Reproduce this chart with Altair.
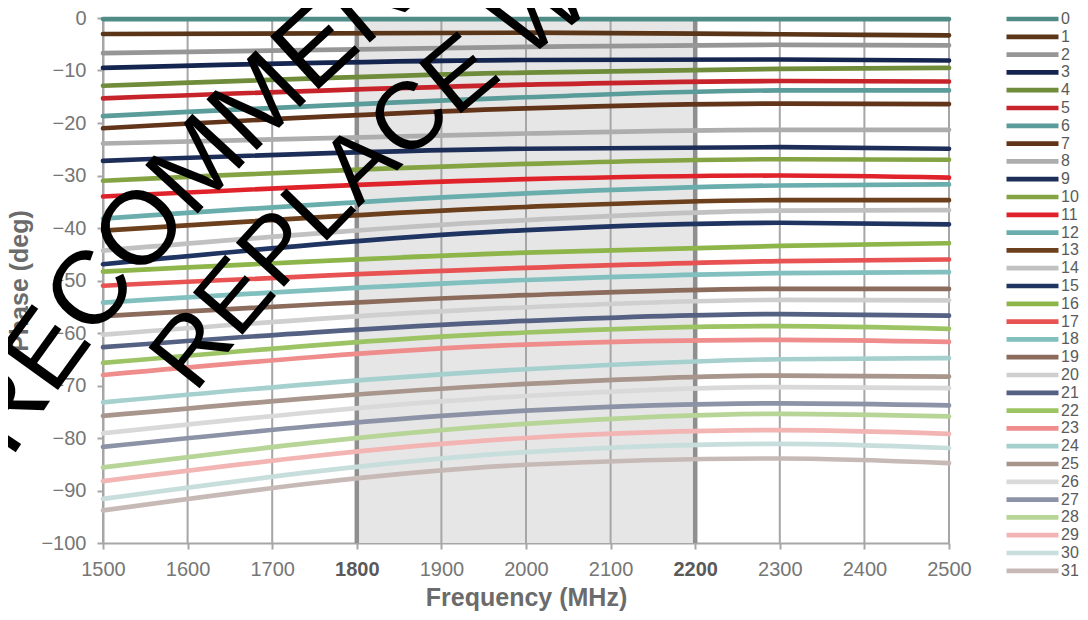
import math
import altair as alt
import pandas as pd

# ---- data ----
series = [str(i) for i in range(32)]
colors = [
    "#4f8b87", "#5a3518", "#969696", "#14254f", "#6e8c3a", "#c6232a", "#5a9c99", "#623419",
    "#adadad", "#1c2d58", "#84a444", "#e0232b", "#69adac", "#6c3f1d", "#c1c1c1", "#1f3461",
    "#8db54a", "#e85253", "#82bfbf", "#8a6b5c", "#cfcfcf", "#556183", "#9cc464", "#ee8d8c",
    "#a5d0ce", "#a8958c", "#d9d9d9", "#8d93a6", "#b8d598", "#f2b5b3", "#c7dedd", "#c7bab6",
]
freqs = [1500, 2000, 2300, 2500]
p1500 = [-0.2, -3.05, -6.7, -9.5, -12.9, -15.3, -18.7, -21.0, -23.9, -27.2, -31.0, -34.0,
         -38.2, -40.5, -44.3, -46.9, -48.3, -51.0, -54.2, -56.8, -60.3, -62.7, -65.7, -68.0,
         -73.2, -75.8, -79.1, -81.7, -85.6, -88.2, -91.6, -93.8]
p2000 = [-0.2, -2.8, -5.5, -8.0, -10.4, -12.7, -15.1, -17.2, -22.0, -24.9, -27.8, -30.7,
         -33.4, -36.0, -38.5, -40.4, -44.7, -47.6, -49.9, -52.8, -55.1, -57.7, -59.9, -62.2,
         -66.9, -69.7, -72.0, -74.8, -77.3, -80.0, -82.7, -85.1]
p2300 = [-0.2, -3.1, -5.1, -7.9, -9.7, -12.0, -13.8, -16.3, -21.3, -24.6, -26.9, -30.0,
         -31.9, -34.7, -36.7, -39.0, -43.4, -46.3, -48.6, -51.6, -53.7, -56.4, -58.7, -61.3,
         -65.0, -68.1, -70.3, -73.4, -75.4, -78.5, -81.1, -83.9]
p2500 = [-0.2, -3.3, -5.2, -8.1, -9.5, -12.1, -13.8, -16.4, -21.3, -24.9, -27.0, -30.4,
         -31.7, -34.7, -36.6, -39.3, -42.9, -46.0, -48.4, -51.6, -53.8, -56.7, -59.2, -61.7,
         -64.8, -68.3, -70.5, -73.8, -75.9, -79.2, -81.9, -84.8]

x_ticks = list(range(1500, 2501, 100))
y_ticks = list(range(-100, 1, 10))
band_start, band_end = [1800], [2200]

# watermark: two lines of text on concentric arcs (partly off the page)
wm_lines = ["RECOMMENDED", "REPLACE WITH"]
wm_font_size = [104, 95]
wm_radius = [1977, 1864]        # baseline radius, px
wm_start_deg = [213.8, 218.5]   # polar angle of first letter centre
wm_center_freq = 3358           # arc centre, in data units
wm_center_phase = -287.6

# Arial / Liberation Sans advance widths (em)
ADV = {"R": .722, "E": .667, "C": .722, "O": .778, "M": .833, "N": .722, "D": .722,
       "P": .667, "L": .556, "A": .667, " ": .278, "W": .944, "I": .278, "T": .611, "H": .722}

# ---- tables ----
rows = []
for i, s in enumerate(series):
    for f, arr in zip(freqs, [p1500, p2000, p2300, p2500]):
        rows.append({"state": s, "freq": f, "phase": arr[i]})
df = pd.DataFrame(rows)
grid_df = pd.DataFrame({"freq": x_ticks})
band_df = pd.DataFrame({"f1": band_start, "f2": band_end, "p1": [0], "p2": [-100]})

PX_PER_MHZ = 846 / 1000
PX_PER_DEG = 525 / 100
wm_rows = []
for text, fs, rad, start in zip(wm_lines, wm_font_size, wm_radius, wm_start_deg):
    s = 0.0
    s0 = None
    for ch in text:
        w = ADV[ch] * fs
        sc = s + w / 2
        if s0 is None:
            s0 = sc
        phi = math.radians(start) + (sc - s0) / rad
        dx = rad * math.cos(phi)
        dy = rad * math.sin(phi)
        wm_rows.append({
            "ch": ch,
            "freq": wm_center_freq + dx / PX_PER_MHZ,
            "phase": wm_center_phase - dy / PX_PER_DEG,
            "ang": (math.degrees(phi) + 90) % 360,
            "fs": fs,
        })
        s += w
wm_df = pd.DataFrame(wm_rows)

FONT = "Liberation Sans"
xscale = alt.Scale(domain=[1500, 2500], nice=False, zero=False)
yscale = alt.Scale(domain=[-100, 0], nice=False, zero=False)
bold_test = "datum.value == 1800 || datum.value == 2200"

xaxis = alt.Axis(
    title="Frequency (MHz)", values=x_ticks, format="d", grid=False,
    domainColor="#a6a6a6", domainWidth=2, tickColor="#a6a6a6", tickWidth=2, tickSize=6,
    labelFont=FONT, labelFontSize=20, labelPadding=10, labelFlush=False, labelOverlap=False,
    labelColor={"condition": {"test": bold_test, "value": "#595959"}, "value": "#767676"},
    labelFontWeight={"condition": {"test": bold_test, "value": "bold"}, "value": "normal"},
    titleFont=FONT, titleFontSize=25, titleFontWeight="bold", titleColor="#6b6b6b", titlePadding=6,
)
yaxis = alt.Axis(
    title="Phase (deg)", values=y_ticks, format="d", grid=False,
    domainColor="#a6a6a6", domainWidth=2, tickColor="#a6a6a6", tickWidth=2, tickSize=6,
    labelFont=FONT, labelFontSize=20, labelPadding=11, labelColor="#767676",
    titleFont=FONT, titleFontSize=25, titleFontWeight="bold", titleColor="#6b6b6b", titlePadding=8,
)

band = alt.Chart(band_df).mark_rect(color="#e6e6e6").encode(
    x=alt.X("f1:Q", scale=xscale, axis=xaxis), x2="f2:Q",
    y=alt.Y("p1:Q", scale=yscale, axis=yaxis), y2="p2:Q",
)

thick = "datum.freq == 1800 || datum.freq == 2200"
grid = alt.Chart(grid_df).mark_rule().encode(
    x=alt.X("freq:Q", scale=xscale, axis=xaxis),
    y=alt.datum(0, scale=yscale), y2=alt.datum(-100),
    strokeWidth=alt.condition(thick, alt.value(4.5), alt.value(2)),
    color=alt.condition(thick, alt.value("#8f8f8f"), alt.value("#a6a6a6")),
)

lines = alt.Chart(df).mark_line(strokeWidth=4.7, strokeCap="round", interpolate="monotone").encode(
    x=alt.X("freq:Q", scale=xscale, axis=xaxis),
    y=alt.Y("phase:Q", scale=yscale, axis=yaxis),
    color=alt.Color(
        "state:N",
        scale=alt.Scale(domain=series, range=colors),
        legend=alt.Legend(
            title=None, orient="none", legendX=901, legendY=-7, padding=0,
            symbolType="stroke", symbolSize=2704, symbolStrokeWidth=4.7, symbolLimit=40,
            clipHeight=16, rowPadding=1.8, labelOffset=0,
            labelFont=FONT, labelFontSize=16, labelColor="#5a5a5a",
        ),
    ),
)

watermark = alt.Chart(wm_df).mark_text(
    align="center", baseline="alphabetic", font=FONT, color="#000000",
).encode(
    x=alt.X("freq:Q", scale=xscale, axis=xaxis),
    y=alt.Y("phase:Q", scale=yscale, axis=yaxis),
    angle=alt.Angle("ang:Q", scale=None),
    size=alt.Size("fs:Q", scale=None, legend=None),
    text="ch:N",
)

chart = alt.layer(band, grid, lines, watermark).properties(
    width=846, height=525,
    autosize=alt.AutoSizeParams(type="none"),
    padding={"left": 95, "top": 10, "right": 131, "bottom": 69},
).configure_view(stroke=None).configure(background="white")

chart.save("out.html", embed_options={"renderer": "svg", "actions": False})
